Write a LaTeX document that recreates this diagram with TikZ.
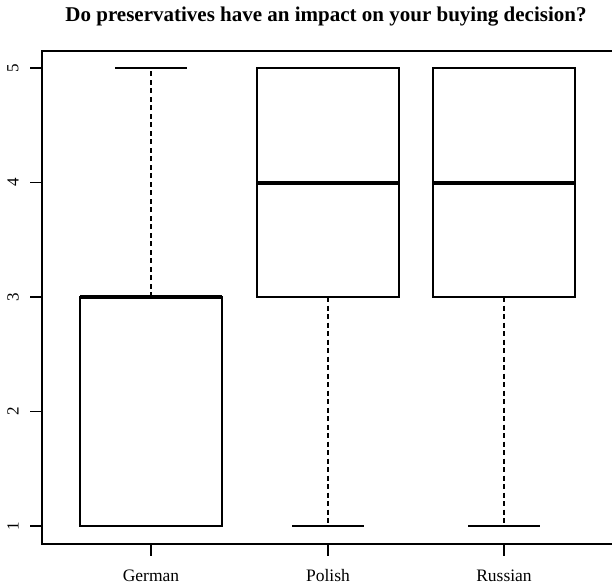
\documentclass[tikz,border=0pt]{standalone}
\usepackage{fontspec}
\setmainfont{Liberation Serif}
\begin{document}
\begin{tikzpicture}[x=1pt,y=-1pt,
  frame/.style={line width=1.4pt},
  boxline/.style={line width=1.4pt},
  median/.style={line width=4pt},
  whisker/.style={line width=1.2pt,dash pattern=on 5pt off 3.5pt},
  ticklab/.style={font=\fontsize{17}{17}\selectfont},
  grouplab/.style={font=\fontsize{17.5}{17.5}\selectfont}]
\useasboundingbox (0,0) rectangle (612,587);
% value -> vertical position
\def\vy#1{526-114.5*(#1-1)}
% title
\node[font=\bfseries\fontsize{21}{21}\selectfont] (title) at (326,17) {Do preservatives have an impact on your buying decision?};
% plot frame (runs past the right edge)
\draw[frame] (640,51) -- (42,51) -- (42,544) -- (640,544);
% y axis ticks and labels
\foreach \v in {1,...,5}{
  \draw[frame] (30,{\vy{\v}}) -- (42,{\vy{\v}});
  \node[ticklab,rotate=90] (y\v) at (13,{\vy{\v}}) {\v};
}
% x axis ticks and group labels
\foreach \cx/\name in {151/German,328/Polish,504/Russian}{
  \draw[frame] (\cx,544) -- (\cx,556);
  \node[grouplab] (lab\name) at (\cx,576) {\name};
}
% German: box 1..3, median 3, upper whisker to 5
\draw[boxline] (80,{\vy{1}}) rectangle (222,{\vy{3}});
\draw[whisker] (151,{\vy{3}}) -- (151,{\vy{5}});
\draw[boxline] (115,{\vy{5}}) -- (187,{\vy{5}});
\draw[median] (80,{\vy{3}}) -- (222,{\vy{3}});
% Polish: box 3..5, median 4, lower whisker to 1
\draw[boxline] (257,{\vy{3}}) rectangle (399,{\vy{5}});
\draw[whisker] (328,{\vy{3}}) -- (328,{\vy{1}});
\draw[boxline] (292,{\vy{1}}) -- (364,{\vy{1}});
\draw[median] (257,{\vy{4}}) -- (399,{\vy{4}});
% Russian: box 3..5, median 4, lower whisker to 1
\draw[boxline] (433,{\vy{3}}) rectangle (575,{\vy{5}});
\draw[whisker] (504,{\vy{3}}) -- (504,{\vy{1}});
\draw[boxline] (468,{\vy{1}}) -- (540,{\vy{1}});
\draw[median] (433,{\vy{4}}) -- (575,{\vy{4}});
\end{tikzpicture}
\end{document}
